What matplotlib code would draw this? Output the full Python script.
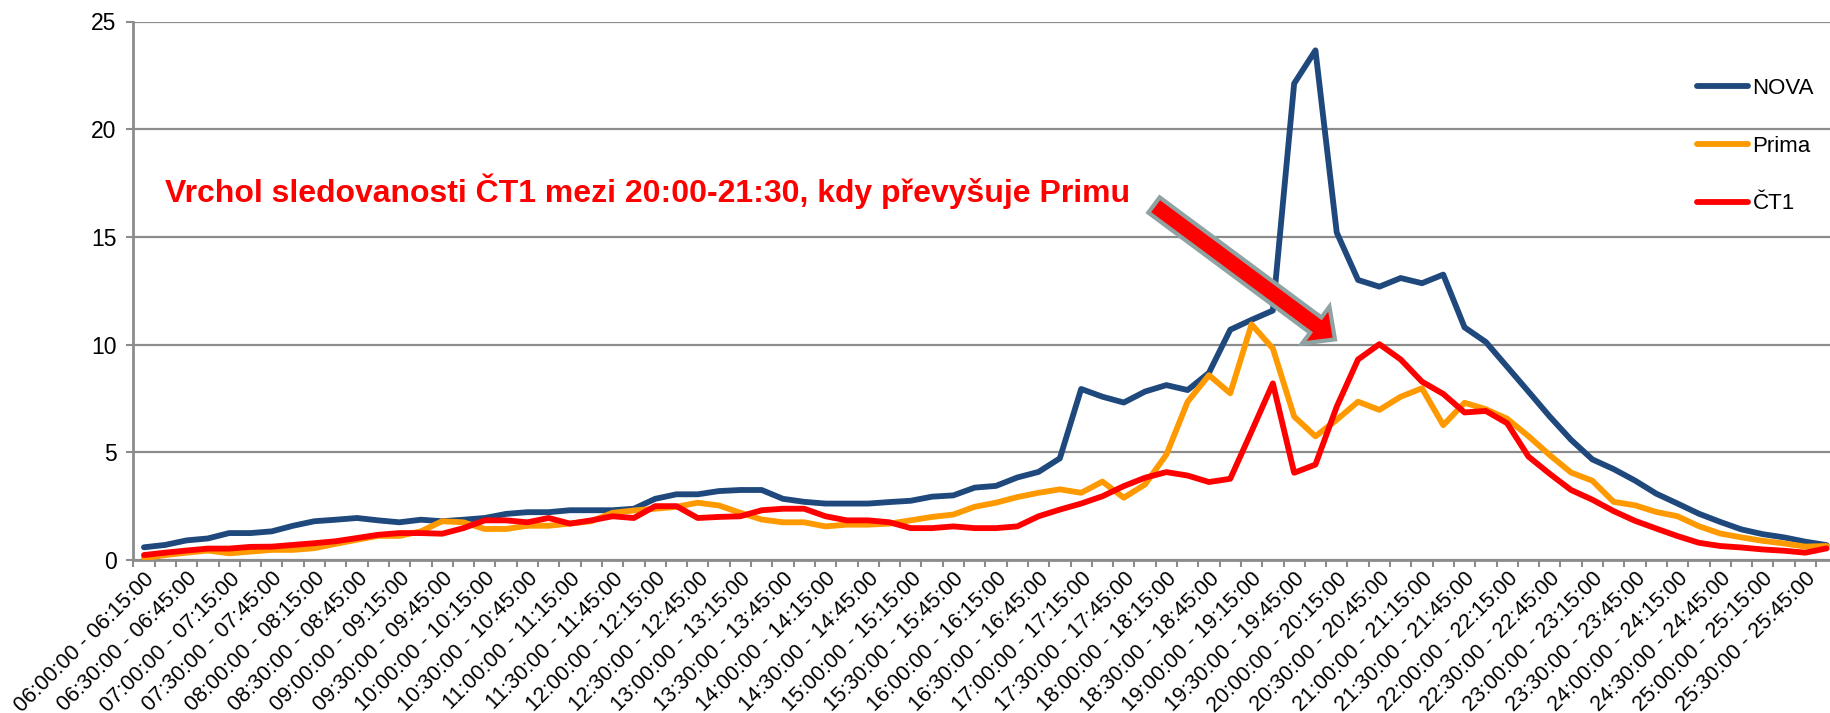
import numpy as np
import matplotlib
matplotlib.use("Agg")
import matplotlib.pyplot as plt
from matplotlib.patches import FancyArrow
from matplotlib.transforms import IdentityTransform

plt.rcParams['font.family'] = ['Liberation Sans', 'DejaVu Sans']

# --- data -------------------------------------------------------------
def _hms(minutes):
    return f"{minutes // 60:02d}:{minutes % 60:02d}:00"

categories = [f"{_hms(360 + 15 * q)} - {_hms(375 + 15 * q)}" for q in range(80)]

nova = [0.59, 0.70, 0.91, 1.00, 1.25, 1.25, 1.33, 1.59, 1.80, 1.87,
        1.95, 1.84, 1.75, 1.87, 1.80, 1.87, 1.95, 2.14, 2.22, 2.22,
        2.31, 2.31, 2.31, 2.38, 2.84, 3.05, 3.05, 3.20, 3.25, 3.25,
        2.84, 2.70, 2.62, 2.62, 2.62, 2.69, 2.75, 2.94, 3.00, 3.36,
        3.44, 3.83, 4.09, 4.72, 7.94, 7.58, 7.31, 7.82, 8.12, 7.89,
        8.69, 10.69, 11.15, 11.58, 22.12, 23.66, 15.20, 13.00, 12.69, 13.09,
        12.85, 13.25, 10.80, 10.12, 8.97, 7.82, 6.66, 5.58, 4.67, 4.22,
        3.69, 3.08, 2.62, 2.15, 1.77, 1.42, 1.20, 1.05, 0.85, 0.69]

prima = [0.08, 0.23, 0.34, 0.44, 0.31, 0.39, 0.47, 0.47, 0.55, 0.75,
         0.94, 1.12, 1.12, 1.33, 1.80, 1.75, 1.44, 1.44, 1.59, 1.59,
         1.69, 1.80, 2.19, 2.30, 2.38, 2.47, 2.66, 2.53, 2.19, 1.88,
         1.75, 1.75, 1.56, 1.64, 1.64, 1.69, 1.84, 2.00, 2.11, 2.47,
         2.66, 2.92, 3.12, 3.28, 3.12, 3.64, 2.89, 3.51, 4.89, 7.35,
         8.58, 7.74, 10.94, 9.82, 6.66, 5.74, 6.51, 7.35, 6.97, 7.58,
         7.97, 6.26, 7.30, 7.00, 6.56, 5.75, 4.87, 4.06, 3.68, 2.70,
         2.54, 2.23, 2.03, 1.57, 1.23, 1.05, 0.89, 0.77, 0.62, 0.65]

ct1 = [0.23, 0.34, 0.44, 0.53, 0.53, 0.61, 0.62, 0.70, 0.78, 0.87,
       1.02, 1.17, 1.25, 1.25, 1.22, 1.48, 1.84, 1.84, 1.75, 1.95,
       1.69, 1.84, 2.03, 1.95, 2.50, 2.50, 1.95, 2.00, 2.03, 2.31,
       2.38, 2.38, 2.03, 1.84, 1.84, 1.75, 1.48, 1.48, 1.56, 1.48,
       1.48, 1.56, 2.03, 2.34, 2.62, 2.96, 3.43, 3.82, 4.08, 3.92,
       3.62, 3.77, 5.97, 8.20, 4.05, 4.43, 7.12, 9.31, 10.02, 9.31,
       8.28, 7.71, 6.85, 6.92, 6.35, 4.80, 4.00, 3.25, 2.80, 2.27,
       1.82, 1.46, 1.11, 0.80, 0.65, 0.58, 0.49, 0.43, 0.34, 0.54]

series_names = ["NOVA", "Prima", "ČT1"]
series_colors = ["#1F497D", "#FF9900", "#FF0000"]
y_ticks = [0, 5, 10, 15, 20, 25]
annotation = "Vrchol sledovanosti ČT1 mezi 20:00-21:30, kdy převyšuje Primu"

# --- figure -----------------------------------------------------------
W, H = 1830, 713
fig = plt.figure(figsize=(W / 100, H / 100), dpi=100)
ax_left, ax_right, ax_top, ax_bottom = 133.3, 1837.3, 21.5, 560.0
ax = fig.add_axes([ax_left / W, 1 - ax_bottom / H,
                   (ax_right - ax_left) / W, (ax_bottom - ax_top) / H])

x = np.arange(len(categories))
for vals, name, col in zip([nova, prima, ct1], series_names, series_colors):
    ax.plot(x, vals, color=col, lw=4.2, label=name,
            solid_joinstyle='round', solid_capstyle='round', zorder=3)

ax.set_xlim(-0.5, len(categories) - 0.5)
ax.set_ylim(0, 25)
ax.set_yticks(y_ticks)
ax.set_yticklabels([str(v) for v in y_ticks], fontsize=16.5)

grid_col = '#8C8C8C'
ax.yaxis.grid(True, color=grid_col, lw=1.6)
ax.set_axisbelow(True)
for s in ['top', 'right']:
    ax.spines[s].set_visible(False)
for s in ['left', 'bottom']:
    ax.spines[s].set_color(grid_col)
    ax.spines[s].set_linewidth(2)

ax.set_xticks(np.arange(-0.5, len(categories), 1.0))
ax.set_xticklabels([])
ax.set_xticks(x[::2], minor=True)
ax.set_xticklabels(categories[::2], minor=True, rotation=45, ha='right',
                   va='top', rotation_mode='anchor', fontsize=15.5)
ax.tick_params(axis='x', which='major', length=5, width=1.5, color=grid_col,
               direction='out')
ax.tick_params(axis='x', which='minor', length=0, pad=6)
ax.tick_params(axis='y', length=5, width=1.5, color=grid_col, pad=7)

leg = ax.legend(loc='upper left', bbox_to_anchor=(1697 / W, 1 - 78 / H),
                bbox_transform=fig.transFigure, frameon=False, fontsize=16,
                handlelength=2.3, handletextpad=0.2, labelspacing=1.65,
                borderpad=0, borderaxespad=0)

fig.text(165 / W, 1 - 202 / H, annotation, color='#FF0000', fontsize=23,
         fontweight='bold', ha='left', va='baseline')

arrow = FancyArrow(1154, H - 205, 181, -134.4, width=19, head_width=46,
                   head_length=24, length_includes_head=True,
                   facecolor='#FF0000', edgecolor='#8FA3A3', linewidth=3,
                   transform=IdentityTransform(), zorder=5)
fig.add_artist(arrow)

fig.savefig('out.png', dpi=100)
